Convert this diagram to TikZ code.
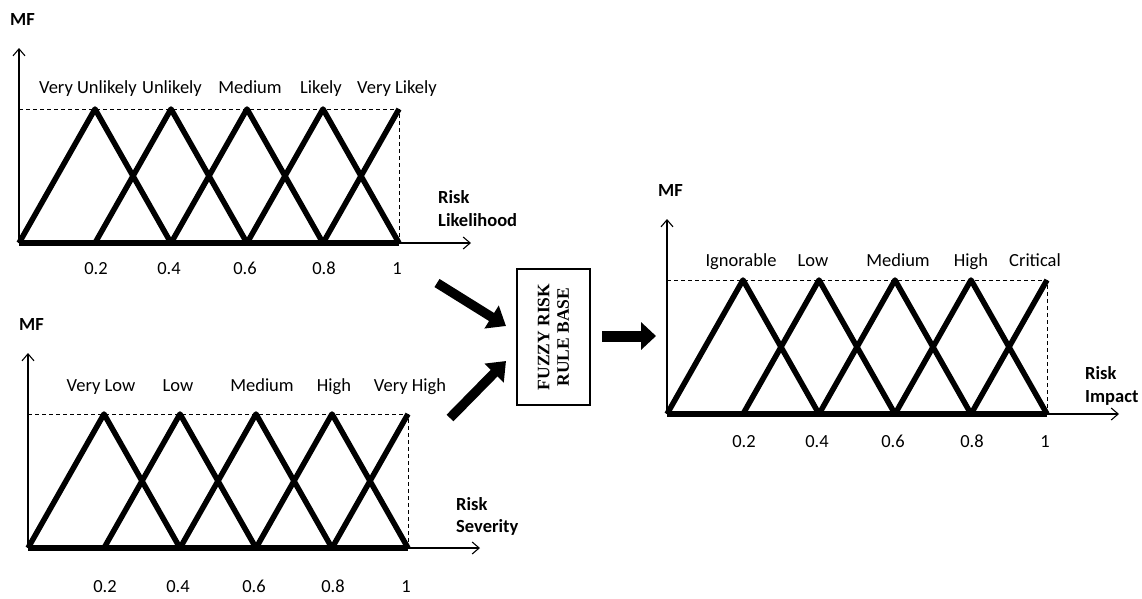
\documentclass[tikz,border=0pt]{standalone}
\usepackage{fontspec}
\setmainfont{Carlito}[Numbers=Lining]
\newfontfamily\rulefont{Liberation Serif}
\usetikzlibrary{arrows.meta}

\tikzset{
  x=1pt, y=-1pt,
  axisline/.style={line width=1.1pt, -{Straight Barb[length=7pt,width=12pt]}},
  guide/.style={line width=0.9pt, dash pattern=on 4pt off 3pt},
  mfline/.style={line width=5.5pt, line join=round, line cap=butt},
  zeroline/.style={line width=5.5pt},
  labeltext/.style={font=\fontsize{18.5}{22}\selectfont, inner sep=0pt, text height=12.5pt, text depth=4pt},
  setlabel/.style={labeltext},
  ticklabel/.style={labeltext},
  axistitle/.style={font=\bfseries\fontsize{18.5}{22.5}\selectfont, inner sep=0pt, align=left, anchor=west},
  mftitle/.style={font=\bfseries\fontsize{18.5}{22}\selectfont, inner sep=0pt},
  rulebox/.style={draw, line width=2.8pt, rotate=90, minimum width=136pt, minimum height=73pt,
    align=center, inner sep=0pt, font=\rulefont\bfseries\fontsize{17.5}{19.5}\selectfont},
  bigarrow/.style={line width=9.5pt, -{Triangle[length=17pt,width=26pt]}},
  widearrow/.style={line width=11pt, -{Triangle[length=15pt,width=27pt]}},
}

% One membership-function graph in local coordinates (origin = start of the x axis).
% #1 name prefix, #2 tick-label offset, #3 set-label offset, #4 list of x/set label
\newcommand\mfgraph[4]{%
  \coordinate (#1-o) at (0,0);
  \coordinate (#1-ytip) at (0,-195);
  \coordinate (#1-xtip) at (452,0);
  \coordinate (#1-tl) at (0,-134);
  \coordinate (#1-tr) at (380,-134);
  \coordinate (#1-br) at (380,0);
  \draw[guide] (#1-tl) -- (#1-tr) -- (#1-br);
  \draw[axisline] (#1-o) -- (#1-ytip);
  \draw[axisline] (#1-o) -- (#1-xtip);
  \draw[zeroline] (#1-o) -- (#1-br);
  \foreach \k in {0,1,2,3}
    \draw[mfline] ({\k*76},0) -- ({(\k+1)*76},-134) -- ({(\k+2)*76},0);
  \draw[mfline] (304,0) -- (#1-tr);
  \foreach \x/\t [count=\i] in {77/0.2,150/0.4,226/0.6,305/0.8,378/1}
    \node[ticklabel] (#1-tick\i) at (\x,#2) {\t};
  \foreach \x/\s [count=\i] in {#4}
    \node[setlabel] (#1-set\i) at (\x,#3) {\s};
  \node[mftitle] (#1-mf) at (3.5,-224) {MF};
}

\begin{document}
\begin{tikzpicture}
\useasboundingbox (0,0) rectangle (1142,598);

% Risk likelihood
\begin{scope}[shift={(19,243)}]
  \mfgraph{lik}{27}{-154}{69/Very Unlikely,153/Unlikely,231/Medium,302/Likely,378/Very Likely}
  \node[axistitle] (lik-title) at (419,-34.5) {Risk\\Likelihood};
\end{scope}

% Risk severity
\begin{scope}[shift={(28,548)}]
  \mfgraph{sev}{40}{-161}{73/Very Low,150/Low,234/Medium,306/High,382/Very High}
  \node[axistitle] (sev-title) at (428,-31.5) {Risk\\Severity};
\end{scope}

% Risk impact
\begin{scope}[shift={(667,414)}]
  \mfgraph{imp}{29}{-152}{74/Ignorable,146/Low,231/Medium,304/High,368/Critical}
  \node[axistitle] (imp-title) at (418,-28) {Risk\\Impact};
\end{scope}

% Rule base and the flow arrows
\node[rulebox] (frb) at (553.5,337) {FUZZY RISK\\RULE BASE};

\coordinate (a1s) at (437,283);
\coordinate (a1e) at (506,326);
\coordinate (a2s) at (450,418);
\coordinate (a2e) at (506,361);
\coordinate (a3s) at (602,336);
\coordinate (a3e) at (656,336);
\draw[bigarrow] (a1s) -- (a1e);
\draw[bigarrow] (a2s) -- (a2e);
\draw[widearrow] (a3s) -- (a3e);
\end{tikzpicture}
\end{document}
